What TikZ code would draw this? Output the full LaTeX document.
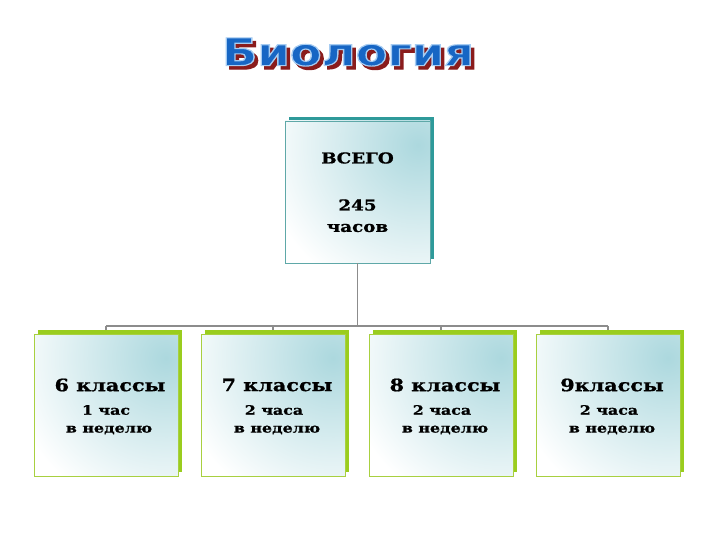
\documentclass[tikz,border=0pt]{standalone}
\usepackage{fontspec}
\setmainfont{DejaVu Serif}
\newfontfamily\bodyfont{DejaVu Serif Bold}[FakeStretch=1.22, FakeBold=1]
\newfontfamily\titlefont{DejaVu Sans Bold}[FakeBold=3]
\usetikzlibrary{shadows}
\definecolor{tealsh}{HTML}{2E9A9A}
\definecolor{tealbd}{HTML}{5FA8A8}
\definecolor{greensh}{HTML}{9ACD1E}
\definecolor{greenbd}{HTML}{A8D040}
\definecolor{shadeblue}{HTML}{ACD8DE}
\definecolor{linegray}{HTML}{8C8C8C}
\definecolor{titleblue}{HTML}{1766C4}
\definecolor{titlered}{HTML}{8A1C1C}
\newcommand{\outlinestroke}{\special{pdf:literal direct 0.65 0.80 0.95 RG}}
\tikzset{
  glow/.style={fill=white, path picture={
    \shade[inner color=shadeblue, outer color=white]
      ([xshift=-12pt,yshift=-24pt]path picture bounding box.north east) circle (158pt);}},
  topbox/.style={draw=tealbd, line width=0.8pt, minimum width=145pt, minimum height=142pt, glow,
    general shadow={shadow xshift=4pt, shadow yshift=4pt, fill=tealsh}},
  classbox/.style={draw=greenbd, line width=0.8pt, minimum width=144pt, minimum height=142pt, glow,
    general shadow={shadow xshift=4pt, shadow yshift=4pt, fill=greensh}},
  bigtxt/.style={font=\bodyfont\fontsize{17}{20}\selectfont, inner sep=0pt},
  smalltxt/.style={font=\bodyfont\fontsize{13}{15}\selectfont, inner sep=0pt},
  toptxt/.style={font=\bodyfont\fontsize{15}{18}\selectfont, inner sep=0pt},
  conn/.style={draw=linegray, line width=1.2pt},
  ttl/.style={font=\titlefont\fontsize{38}{40}\selectfont, inner sep=0pt, xscale=1.22}
}
\begin{document}
\begin{tikzpicture}[x=1pt,y=-1pt]
\useasboundingbox (0,0) rectangle (720,540);
% title
\node[ttl, text=titlered] (titleshadow) at (351.5,55.5) {Биология};
\node[ttl] (title) at (348,52) {\color{titleblue}\outlinestroke Биология};
% connectors
\coordinate (hub) at (357.5,326);
\coordinate (hl) at (106,326);
\coordinate (hr) at (608,326);
\node[topbox] (total) at (357.5,192) {};
\path[conn] (total.south) -- (hub);
\path[conn] (hl) -- (hr);
\foreach \n/\x in {c6/106,c7/273,c8/441,c9/608}{
  \coordinate (t\n) at (\x,326);
  \path[conn] (t\n) -- (\x,334);
}
\node[classbox] (c6) at (106,405) {};
\node[classbox] (c7) at (273,405) {};
\node[classbox] (c8) at (441,405) {};
\node[classbox] (c9) at (608,405) {};
% top texts
\node[toptxt] (vsego) at (357.5,158) {ВСЕГО};
\node[toptxt] (num) at (357.5,205) {245};
\node[toptxt] (hours) at (357.5,228) {часов};
% class texts
\node[bigtxt] (k6) at (110,385) {6 классы};
\node[smalltxt] (h6) at (106,410) {1 час};
\node[smalltxt] (w6) at (109,430) {в неделю};
\node[bigtxt] (k7) at (277,385) {7 классы};
\node[smalltxt] (h7) at (274,410) {2 часа};
\node[smalltxt] (w7) at (277,430) {в неделю};
\node[bigtxt] (k8) at (445,385) {8 классы};
\node[smalltxt] (h8) at (442,410) {2 часа};
\node[smalltxt] (w8) at (445,430) {в неделю};
\node[bigtxt] (k9) at (612,385) {9классы};
\node[smalltxt] (h9) at (609,410) {2 часа};
\node[smalltxt] (w9) at (612,430) {в неделю};
\end{tikzpicture}
\end{document}
